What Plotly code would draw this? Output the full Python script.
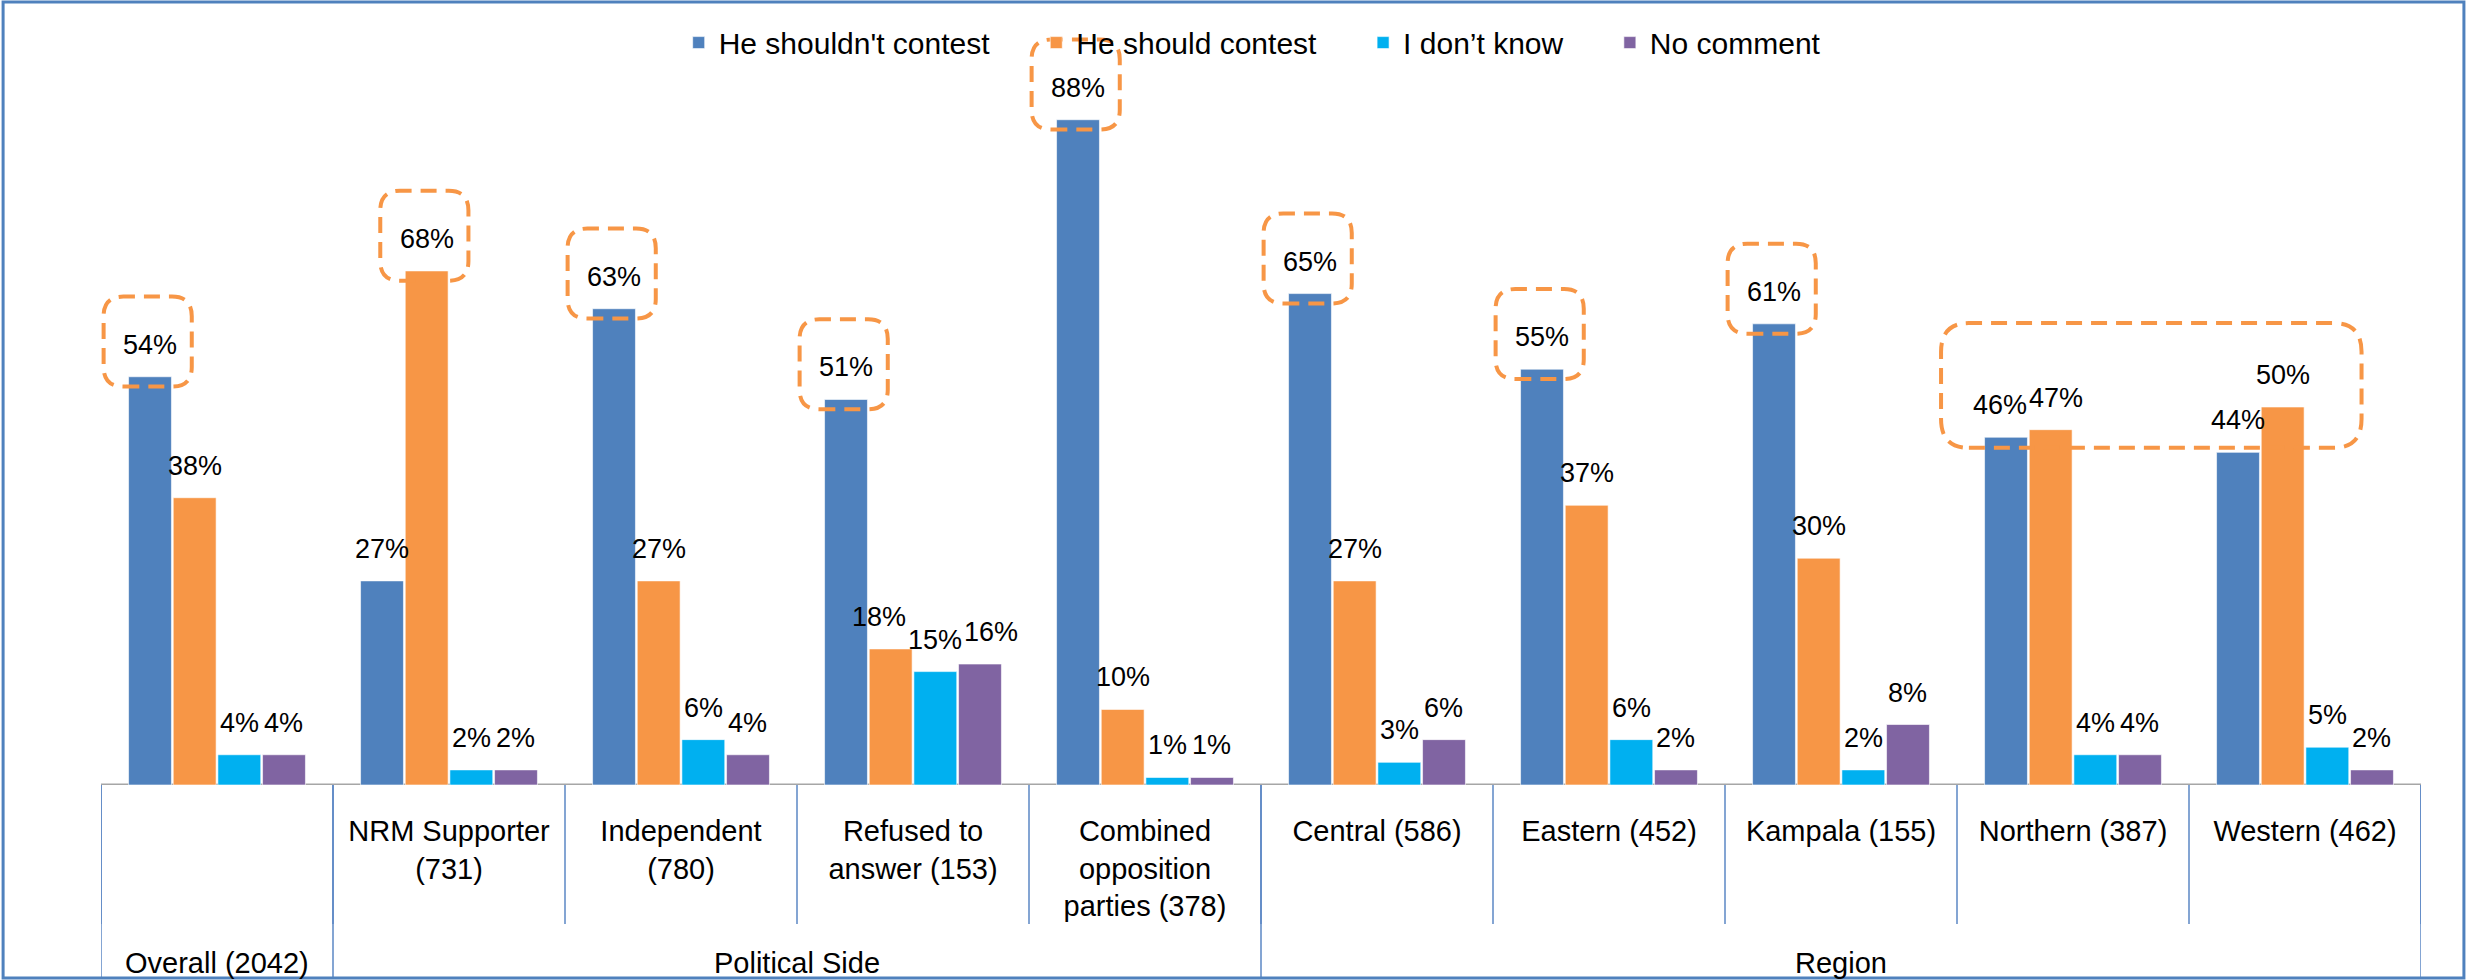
import plotly.graph_objects as go

# category axis
inner_labels = ["", "NRM Supporter<br>(731)", "Independent<br>(780)", "Refused to<br>answer (153)",
                "Combined<br>opposition<br>parties (378)", "Central (586)", "Eastern (452)",
                "Kampala (155)", "Northern (387)", "Western (462)"]
outer_labels = ["Overall (2042)", "Political Side", "Region"]
outer_sizes = [1, 4, 5]

# series (percent)
series_names = ["He shouldn't contest", "He should contest", "I don\u2019t know", "No comment"]
shouldnt = [54, 27, 63, 51, 88, 65, 55, 61, 46, 44]
should = [38, 68, 27, 18, 10, 27, 37, 30, 47, 50]
dont_know = [4, 2, 6, 15, 1, 3, 6, 2, 4, 5]
no_comment = [4, 2, 4, 16, 1, 6, 2, 8, 4, 2]
colors = ["#4F81BD", "#F79646", "#00B0F0", "#8064A2"]

# highlighted labels: (category index, series index)
highlights = [(0, 0), (1, 1), (2, 0), (3, 0), (4, 0), (5, 0), (6, 0), (7, 0)]
group_highlight = [(8, 0), (9, 1)]

FONT = "Liberation Sans, Arial, sans-serif"
LABEL_SIZE = 27
BARGAP = 0.23
all_series = [shouldnt, should, dont_know, no_comment]
xpos = list(range(len(inner_labels)))

# plot area size in px (from margins below), used to keep labels apart
PLOT_W, PLOT_H = 2470 - 101 - 49, 980 - 29 - 195
px_x = PLOT_W / len(xpos)
px_y = PLOT_H / 100

fig = go.Figure()
for name, vals, col in zip(series_names, all_series, colors):
    fig.add_trace(go.Bar(
        x=xpos, y=vals, name=name + "\u00a0" * 5,
        marker=dict(color=col, line=dict(color="rgba(255,255,255,0.6)", width=1)),
        hoverinfo="skip",
    ))

slot = (1 - BARGAP) / len(all_series)
def bar_center(i, k):
    return i + (k - (len(all_series) - 1) / 2) * slot

# data labels, nudged sideways where neighbours collide
def label_w(v):
    return (len(str(v)) * 0.556 + 0.889) * LABEL_SIZE

for i in xpos:
    vals = [s[i] for s in all_series]
    shift = [0.0] * len(vals)
    for _ in range(4):
        for k in range(len(vals) - 1):
            dx = slot * px_x + shift[k + 1] - shift[k]
            need = (label_w(vals[k]) + label_w(vals[k + 1])) / 2 + 2
            if abs(vals[k] - vals[k + 1]) * px_y < LABEL_SIZE * 1.1 and dx < need:
                d = (need - dx) / 2
                shift[k] -= d
                shift[k + 1] += d
    for k, v in enumerate(vals):
        fig.add_annotation(x=bar_center(i, k), y=v, xref="x", yref="y", text=f"{v}%",
                           showarrow=False, yanchor="bottom", yshift=15, xshift=shift[k],
                           font=dict(size=LABEL_SIZE, color="black", family=FONT))

def rounded_box(x0, x1, y0, y1, rx=0.085, ry=2.6):
    return (f"M{x0+rx},{y0} L{x1-rx},{y0} Q{x1},{y0} {x1},{y0+ry} L{x1},{y1-ry} "
            f"Q{x1},{y1} {x1-rx},{y1} L{x0+rx},{y1} Q{x0},{y1} {x0},{y1-ry} "
            f"L{x0},{y0+ry} Q{x0},{y0} {x0+rx},{y0} Z")

box_line = dict(color="#F79646", width=4, dash="16px,9px")
for i, k in highlights:
    c = bar_center(i, k)
    v = all_series[k][i]
    fig.add_shape(type="path", xref="x", yref="y", line=box_line,
                  path=rounded_box(c - 0.2, c + 0.18, v - 1.3, v + 10.6))
(i0, k0), (i1, k1) = group_highlight
lo = min(all_series[k0][i0], all_series[k1][i1])
hi = max(all_series[k0][i0], all_series[k1][i1])
fig.add_shape(type="path", xref="x", yref="y", line=box_line,
              path=rounded_box(bar_center(i0, k0) - 0.28, bar_center(i1, k1) + 0.34, lo - 1.4, hi + 11.1,
                               rx=0.12, ry=3.8))

# floor line
fig.add_shape(type="line", xref="x", yref="y", x0=-0.5, x1=len(xpos) - 0.5, y0=0, y1=0,
              line=dict(color="#A6A6A6", width=3), layer="below")

# table-style category axis
axis_col = "#5B87C5"
inner_bottom = -0.184
outer_bottom = -0.2553
for i in range(len(xpos) + 1):
    fig.add_shape(type="line", xref="x", yref="paper", x0=i - 0.5, x1=i - 0.5,
                  y0=0, y1=inner_bottom, line=dict(color=axis_col, width=1.5))
edge = -0.5
fig.add_shape(type="line", xref="x", yref="paper", x0=edge, x1=edge, y0=0, y1=outer_bottom,
              line=dict(color=axis_col, width=1.5))
for lab, n in zip(outer_labels, outer_sizes):
    fig.add_shape(type="line", xref="x", yref="paper", x0=edge + n, x1=edge + n, y0=0, y1=outer_bottom,
                  line=dict(color=axis_col, width=1.5))
    fig.add_annotation(x=edge + n / 2, y=-0.236, xref="x", yref="paper", text=lab,
                       showarrow=False, yanchor="middle",
                       font=dict(size=29, color="black", family=FONT))
    edge += n

# outer frame
fig.add_shape(type="rect", xref="paper", yref="paper", x0=-0.0422, x1=1.0185, y0=-0.2553, y1=1.0357,
              line=dict(color="#4F81BD", width=3))

fig.update_layout(
    width=2470, height=980,
    margin=dict(l=101, r=49, t=29, b=195, autoexpand=False),
    paper_bgcolor="white", plot_bgcolor="white",
    barmode="group", bargap=BARGAP, bargroupgap=0.04,
    font=dict(family=FONT, size=29, color="black"),
    showlegend=True,
    legend=dict(orientation="h", x=0.249, y=0.982, xanchor="left", yanchor="middle",
                font=dict(size=30, family=FONT), bgcolor="rgba(0,0,0,0)", traceorder="normal"),
    xaxis=dict(range=[-0.5, len(xpos) - 0.5], tickvals=xpos, ticktext=inner_labels,
               showgrid=False, zeroline=False, showline=False, ticks="",
               ticklabelstandoff=26, tickfont=dict(size=29, color="black", family=FONT)),
    yaxis=dict(range=[0, 100], visible=False, showgrid=False),
)

# drop the browser's default page margin so the figure fills the window
fig.write_html("out.html", config={"displayModeBar": False},
               post_script="document.body.style.margin = '0px';")
